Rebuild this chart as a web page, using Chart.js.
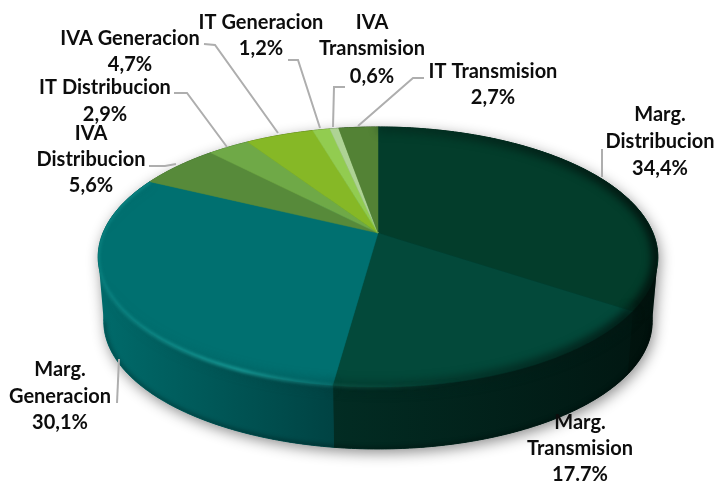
<!DOCTYPE html>
<html>
<head>
<meta charset="utf-8">
<style>
    html, body { margin: 0; padding: 0; background: #fff; }
    canvas { display: block; }
</style>
<script src="https://cdn.jsdelivr.net/npm/chart.js@4"></script>
</head>
<body>
<canvas id="pieChart" width="715" height="481"></canvas>
<script>
// Chart data
const categories = ['Marg. Distribucion', 'Marg. Transmision', 'Marg. Generacion', 'IVA Distribucion',
    'IT Distribucion', 'IVA Generacion', 'IT Generacion', 'IVA Transmision', 'IT Transmision'];
const shares = [34.4, 17.7, 30.1, 5.6, 2.9, 4.7, 1.2, 0.6, 2.7];
const shareLabels = ['34,4%', '17.7%', '30,1%', '5,6%', '2,9%', '4,7%', '1,2%', '0,6%', '2,7%'];
const sliceColors = [[3, 61, 43], [3, 73, 58], [0, 112, 112], [87, 138, 58], [111, 169, 71],
    [134, 184, 38], [146, 204, 80], [174, 211, 148], [83, 130, 53]];

// Label layout: centre x and the y of each text line
const labelLines = [
    { x: 660, y: [115, 142, 169], text: ['Marg.', 'Distribucion'] },
    { x: 580, y: [423, 449, 475], text: ['Marg.', 'Transmision'] },
    { x: 60, y: [370, 397, 423], text: ['Marg.', 'Generacion'] },
    { x: 91, y: [134, 160, 186], text: ['IVA', 'Distribucion'] },
    { x: 105, y: [88, 115], text: ['IT Distribucion'] },
    { x: 130, y: [39, 65], text: ['IVA Generacion'] },
    { x: 261, y: [23, 49], text: ['IT Generacion'] },
    { x: 372, y: [23, 49, 77], text: ['IVA', 'Transmision'] },
    { x: 493, y: [72, 98], text: ['IT Transmision'] }
];

// Leader lines from the labels to the pie
const leaderLines = [
    [[602, 149], [602, 177]],
    [[119, 359], [117, 403]],
    [[149, 166], [165, 166], [176, 164]],
    [[174, 93], [187, 93], [227, 147]],
    [[204, 44], [215, 45], [278, 133]],
    [[288, 60], [298, 60], [320, 128]],
    [[345, 87], [334, 87], [333, 127]],
    [[424, 78], [413, 78], [358, 126]]
];

// Perspective used to lay the pie down on the page
const centerX = 378;
const centerY = 233;
const radiusX = 275;
const radiusY = 125.6;
const tilt = -0.1846;
const wallDrop = 65;
const wallScale = 0.98;

// Map an angle on the pie to the page, depth 0 is the top face and 1 the bottom edge
function project(theta, depth) {
    const u = Math.sin(theta);
    const v = -Math.cos(theta);
    const w = 1 + tilt * v;
    const scale = 1 + (wallScale - 1) * depth;
    return {
        x: centerX + radiusX * scale * u / w,
        y: centerY + wallDrop * depth + radiusY * scale * v / w
    };
}

function rimPoints(arc, depth) {
    const start = arc.startAngle + Math.PI / 2;
    const end = arc.endAngle + Math.PI / 2;
    const steps = Math.max(2, Math.ceil((end - start) * 90));
    const points = [];
    for (let i = 0; i <= steps; i++) {
        points.push(project(start + (end - start) * i / steps, depth));
    }
    return points;
}

// Front of the bottom edge, from the right side round to the left side
function frontPoints() {
    const right = Math.acos(tilt);
    const left = 2 * Math.PI - right;
    const points = [];
    for (let i = 0; i <= 200; i++) {
        points.push(project(right + (left - right) * i / 200, 1));
    }
    return points;
}

// Outline of the whole pie: back of the top face, then front of the bottom edge
function outlinePoints() {
    const right = Math.acos(tilt);
    const left = 2 * Math.PI - right;
    const points = [];
    for (let i = 0; i <= 200; i++) {
        points.push(project(left + (2 * Math.PI + right - left) * i / 200, 0));
    }
    return points.concat(frontPoints());
}

function tracePoints(ctx, points) {
    points.forEach(p => ctx.lineTo(p.x, p.y));
}

function rgb(color, factor, alpha) {
    const c = color.map(v => Math.round(Math.min(255, v * factor)));
    return `rgba(${c[0]},${c[1]},${c[2]},${alpha === undefined ? 1 : alpha})`;
}

// Soft shadow under the whole pie
function drawShadow(ctx) {
    const gradient = ctx.createLinearGradient(centerX - 20, 0, centerX + 20, 0);
    gradient.addColorStop(0, rgb(sliceColors[2], 0.95));
    gradient.addColorStop(1, rgb(sliceColors[0], 0.3));
    ctx.save();
    ctx.shadowColor = 'rgba(0,0,0,0.45)';
    ctx.shadowBlur = 14;
    ctx.shadowOffsetX = 2;
    ctx.shadowOffsetY = 4;
    ctx.fillStyle = gradient;
    ctx.beginPath();
    tracePoints(ctx, outlinePoints());
    ctx.closePath();
    ctx.fill();
    ctx.restore();
}

// Side wall of one slice, lit from the left
function drawWall(ctx, arc, color) {
    const top = rimPoints(arc, 0);
    const bottom = rimPoints(arc, 1).reverse();
    const gradient = ctx.createLinearGradient(centerX - radiusX, 0, centerX + radiusX, 0);
    gradient.addColorStop(0, rgb(color, 0.95));
    gradient.addColorStop(0.42, rgb(color, 0.6));
    gradient.addColorStop(1, rgb(color, 0.3));
    ctx.fillStyle = gradient;
    ctx.strokeStyle = gradient;
    ctx.lineWidth = 1;
    ctx.beginPath();
    tracePoints(ctx, top.concat(bottom));
    ctx.closePath();
    ctx.fill();
    ctx.stroke();
}

function drawTop(ctx, arc, color) {
    ctx.fillStyle = rgb(color, 1);
    ctx.strokeStyle = rgb(color, 1);
    ctx.lineWidth = 0.5;
    ctx.beginPath();
    ctx.moveTo(centerX, centerY);
    tracePoints(ctx, rimPoints(arc, 0));
    ctx.closePath();
    ctx.fill();
    ctx.stroke();
}

// Bevel along the front of the rim: a light band on the left, a dark fade on the right
function drawBevel(ctx, arcs) {
    ctx.save();
    ctx.beginPath();
    tracePoints(ctx, outlinePoints());
    ctx.closePath();
    ctx.clip();

    // Darker lip along the bottom edge
    ctx.filter = 'blur(2px)';
    ctx.strokeStyle = 'rgba(0,0,0,0.3)';
    ctx.lineWidth = 4;
    ctx.beginPath();
    tracePoints(ctx, frontPoints());
    ctx.stroke();

    arcs.forEach((arc, i) => {
        if (i > 2) {
            return;
        }
        const color = sliceColors[i];
        const points = rimPoints(arc, 0);

        const dark = ctx.createLinearGradient(centerX - radiusX, 0, centerX + radiusX, 0);
        dark.addColorStop(0, rgb(color, 0.6, 0));
        dark.addColorStop(0.5, rgb(color, 0.5, 0.35));
        dark.addColorStop(1, rgb(color, 0.3, 0.95));
        ctx.filter = 'blur(4px)';
        ctx.strokeStyle = dark;
        ctx.lineWidth = 12;
        ctx.beginPath();
        tracePoints(ctx, points);
        ctx.stroke();

        if (i === 1 || i === 2) {
            const light = ctx.createLinearGradient(centerX - radiusX, 0, centerX + radiusX, 0);
            const lit = [color[0] + 26, color[1] + 48, color[2] + 44];
            light.addColorStop(0, rgb(lit, 1, 0.35));
            light.addColorStop(0.25, rgb(lit, 1, 0.85));
            light.addColorStop(0.42, rgb(lit, 0.8, 0.45));
            light.addColorStop(0.65, rgb(lit, 0.8, 0));
            ctx.filter = 'blur(1.6px)';
            ctx.strokeStyle = light;
            ctx.lineWidth = 3.5;
            ctx.beginPath();
            tracePoints(ctx, points);
            ctx.stroke();
        }
    });
    ctx.restore();
}

function drawLeaders(ctx) {
    ctx.strokeStyle = '#aeaeae';
    ctx.lineWidth = 2;
    leaderLines.forEach(line => {
        ctx.beginPath();
        line.forEach(p => ctx.lineTo(p[0], p[1]));
        ctx.stroke();
    });
}

function drawLabels(ctx) {
    ctx.fillStyle = '#0d0d0d';
    ctx.font = 'bold 20px Lato';
    ctx.textAlign = 'center';
    ctx.textBaseline = 'middle';
    labelLines.forEach((label, i) => {
        const lines = label.text.concat(shareLabels[i]);
        lines.forEach((line, j) => ctx.fillText(line, label.x, label.y[j]));
    });
}

// The pie is laid out by Chart.js, this plugin paints its arcs in perspective
const tiltedPie = {
    id: 'tiltedPie',
    beforeDatasetsDraw(chart) {
        const ctx = chart.ctx;
        const arcs = chart.getDatasetMeta(0).data;
        ctx.save();
        drawShadow(ctx);
        arcs.forEach((arc, i) => drawWall(ctx, arc, sliceColors[i]));
        arcs.forEach((arc, i) => drawTop(ctx, arc, sliceColors[i]));
        drawBevel(ctx, arcs);
        drawLeaders(ctx);
        drawLabels(ctx);
        ctx.restore();
        return false;
    }
};

new Chart(document.getElementById('pieChart').getContext('2d'), {
    type: 'pie',
    data: {
        labels: categories,
        datasets: [{
            data: shares,
            backgroundColor: sliceColors.map(c => rgb(c, 1))
        }]
    },
    options: {
        responsive: false,
        animation: false,
        plugins: {
            legend: { display: false },
            tooltip: { enabled: false }
        }
    },
    plugins: [tiltedPie]
});
</script>
</body>
</html>
